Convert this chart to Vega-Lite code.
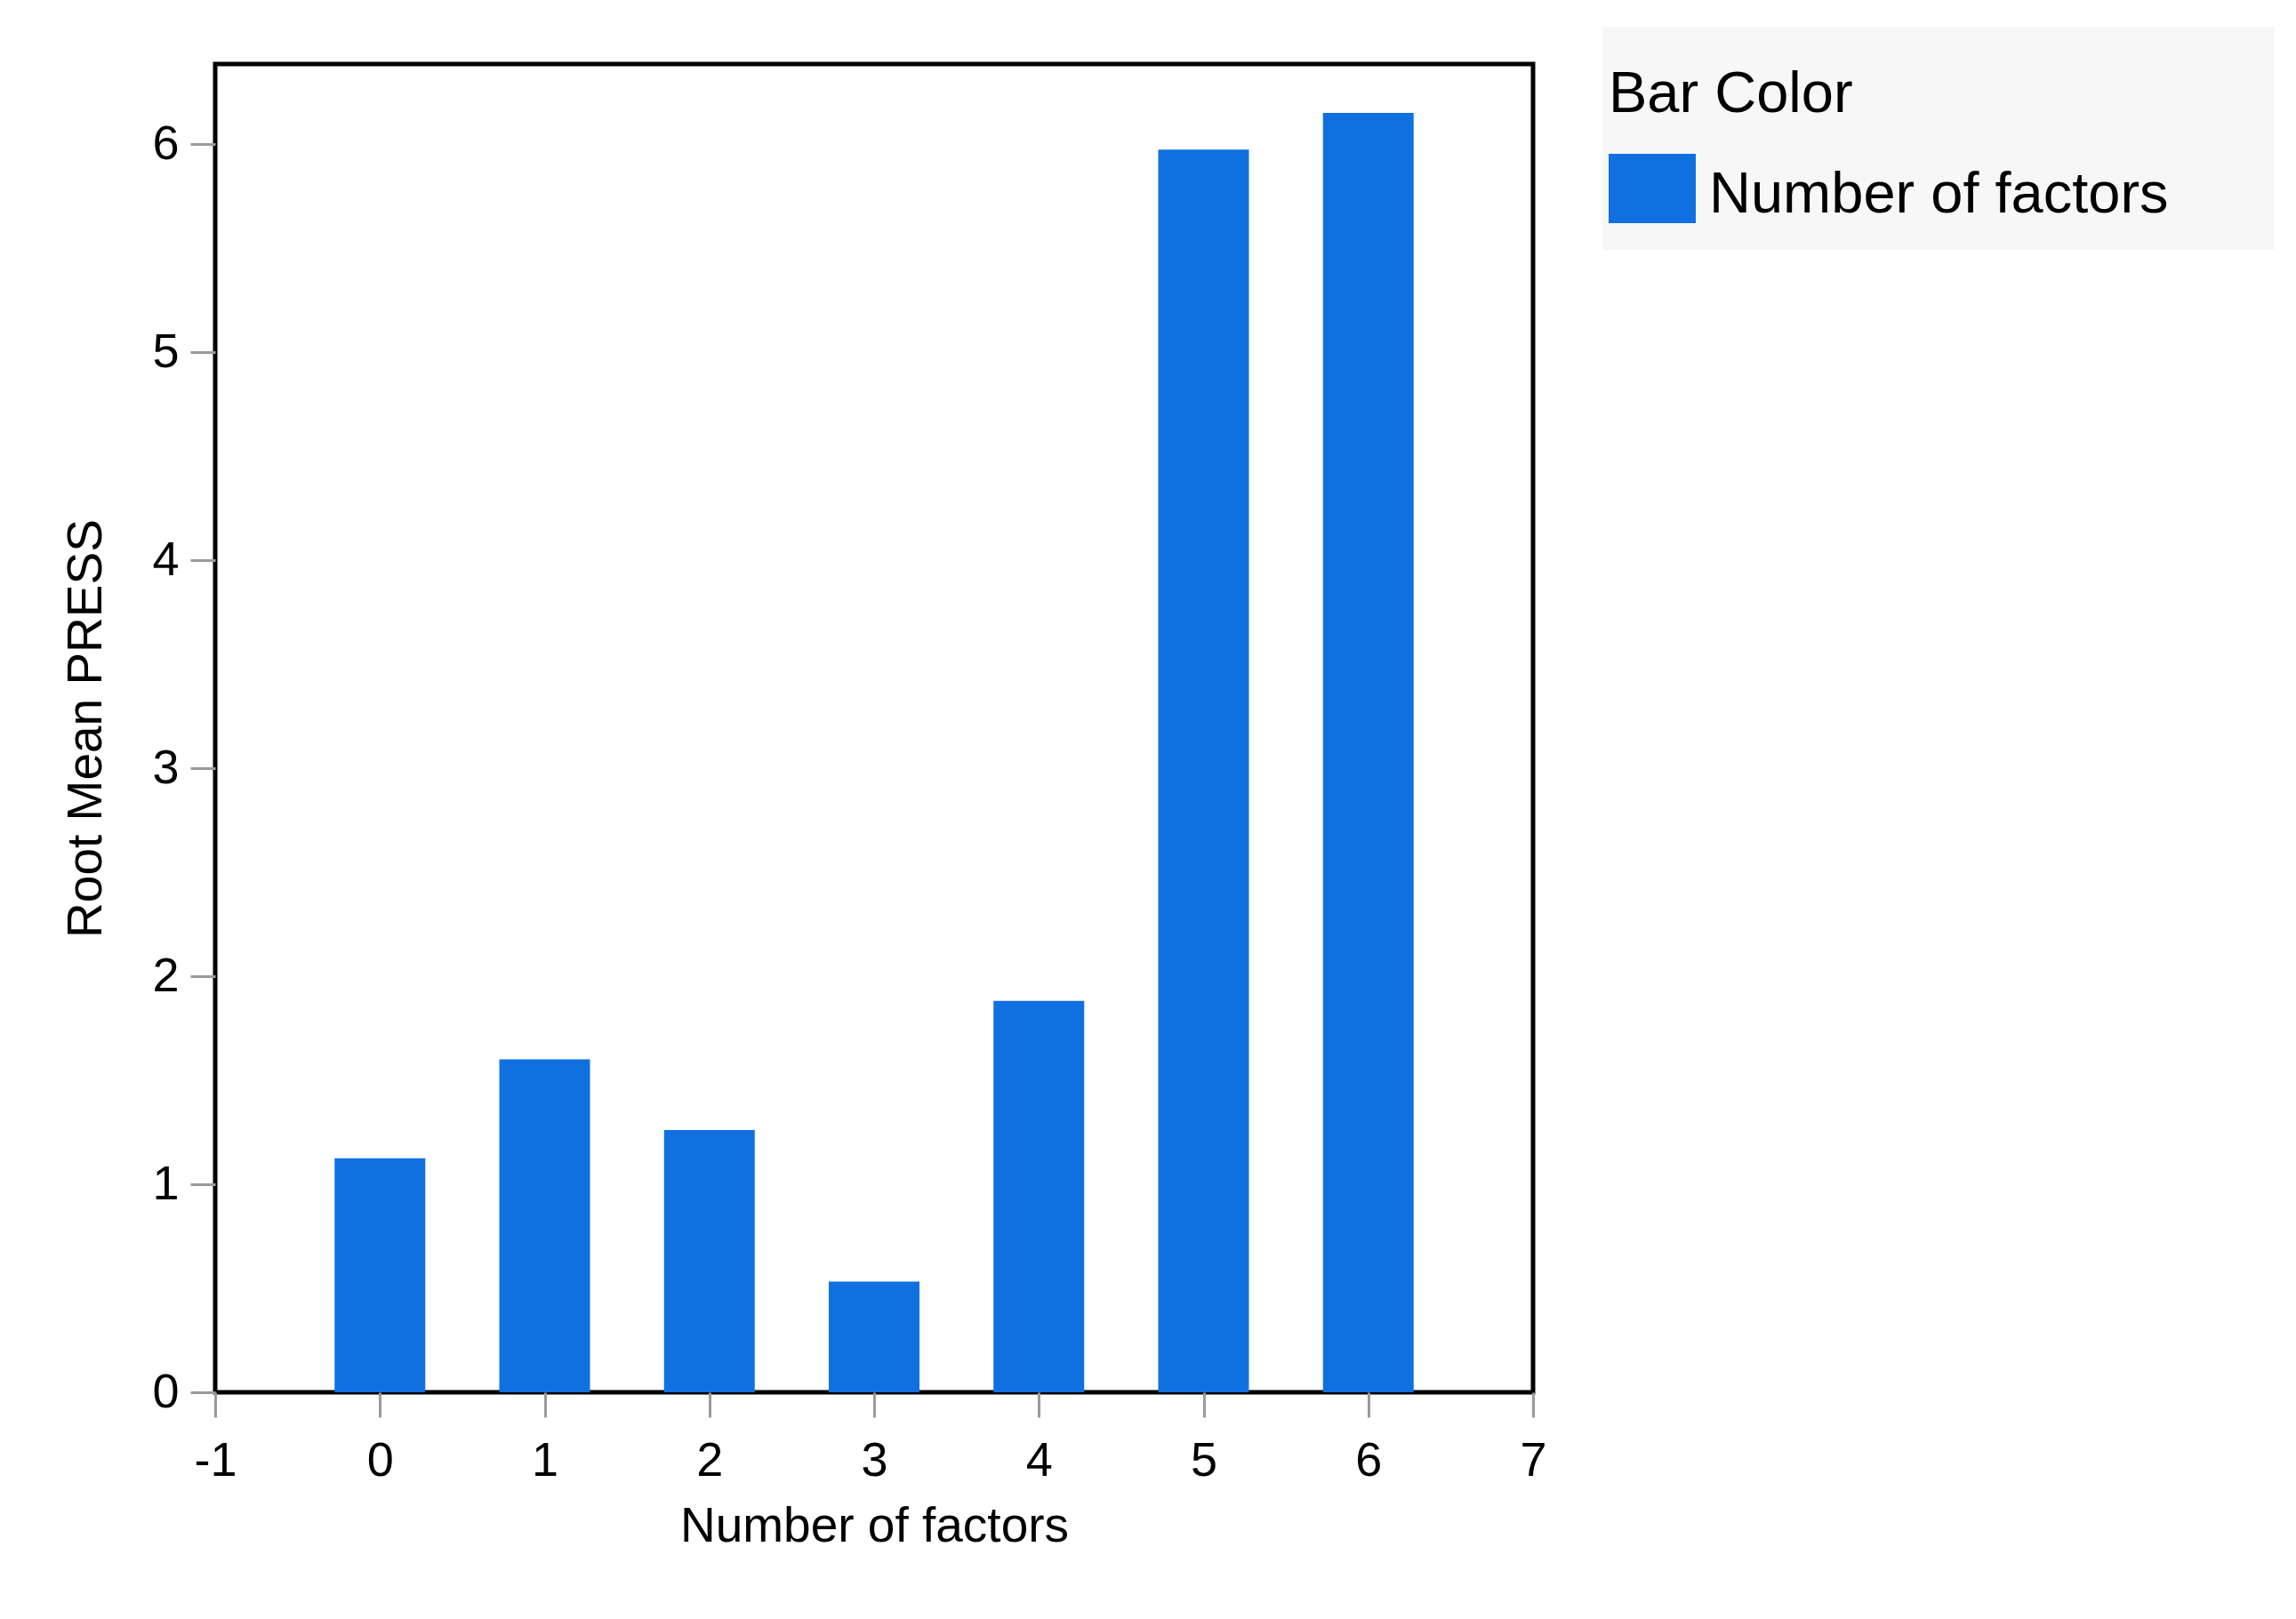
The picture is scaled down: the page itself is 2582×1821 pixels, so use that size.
{
  "$schema": "https://vega.github.io/schema/vega-lite/v6.json",
  "width": 1482,
  "height": 1494,
  "padding": {"left": 69, "top": 30, "right": 10, "bottom": 40},
  "background": "white",
  "data": {
    "values": [
      {"factors": 0, "rmpress": 1.125},
      {"factors": 1, "rmpress": 1.601},
      {"factors": 2, "rmpress": 1.261},
      {"factors": 3, "rmpress": 0.532},
      {"factors": 4, "rmpress": 1.881},
      {"factors": 5, "rmpress": 5.974},
      {"factors": 6, "rmpress": 6.15}
    ]
  },
  "mark": {"type": "bar", "width": 102},
  "encoding": {
    "x": {
      "field": "factors",
      "type": "quantitative",
      "scale": {"domain": [-1, 7], "nice": false, "zero": false, "padding": 0},
      "axis": {
        "title": "Number of factors",
        "values": [-1, 0, 1, 2, 3, 4, 5, 6, 7],
        "labelExpr": "'' + datum.value"
      }
    },
    "y": {
      "field": "rmpress",
      "type": "quantitative",
      "scale": {"domain": [0, 6.385], "nice": false, "padding": 0},
      "axis": {
        "title": "Root Mean PRESS",
        "values": [0, 1, 2, 3, 4, 5, 6],
        "labelExpr": "'' + datum.value"
      }
    },
    "color": {
      "datum": "Number of factors",
      "type": "nominal",
      "scale": {"range": ["#1170e0"]},
      "legend": {
        "title": "Bar Color",
        "orient": "none",
        "legendX": 1560,
        "legendY": -42,
        "padding": 7,
        "fillColor": "#f7f7f7",
        "titleFontSize": 65,
        "titleFont": "Liberation Sans",
        "titleFontWeight": "normal",
        "titleColor": "black",
        "titleLimit": 2000,
        "titleBaseline": "line-top",
        "titleLineHeight": 140,
        "titlePadding": 88,
        "labelFontSize": 65,
        "labelFont": "Liberation Sans",
        "labelColor": "black",
        "labelOffset": 15,
        "labelLimit": 2000,
        "labelBaseline": "alphabetic",
        "symbolType": "M-1,-1.346H1V0.244H-1ZM14.14,0.712",
        "symbolSize": 9604,
        "symbolStrokeWidth": 0,
        "symbolOpacity": 1
      }
    }
  },
  "config": {
    "view": {"stroke": "black", "strokeWidth": 5, "fill": "white"},
    "axis": {
      "domain": false,
      "grid": false,
      "tickColor": "#9a9a9a",
      "tickWidth": 3,
      "tickSize": 28,
      "labelColor": "black",
      "titleColor": "black",
      "labelFont": "Liberation Sans",
      "titleFont": "Liberation Sans",
      "labelFontSize": 54,
      "titleFontSize": 55,
      "titleFontWeight": "normal",
      "labelFlush": false,
      "labelOverlap": false
    },
    "axisX": {"labelPadding": 22, "titlePadding": 20},
    "axisY": {"labelPadding": 13, "titlePadding": 45}
  }
}
